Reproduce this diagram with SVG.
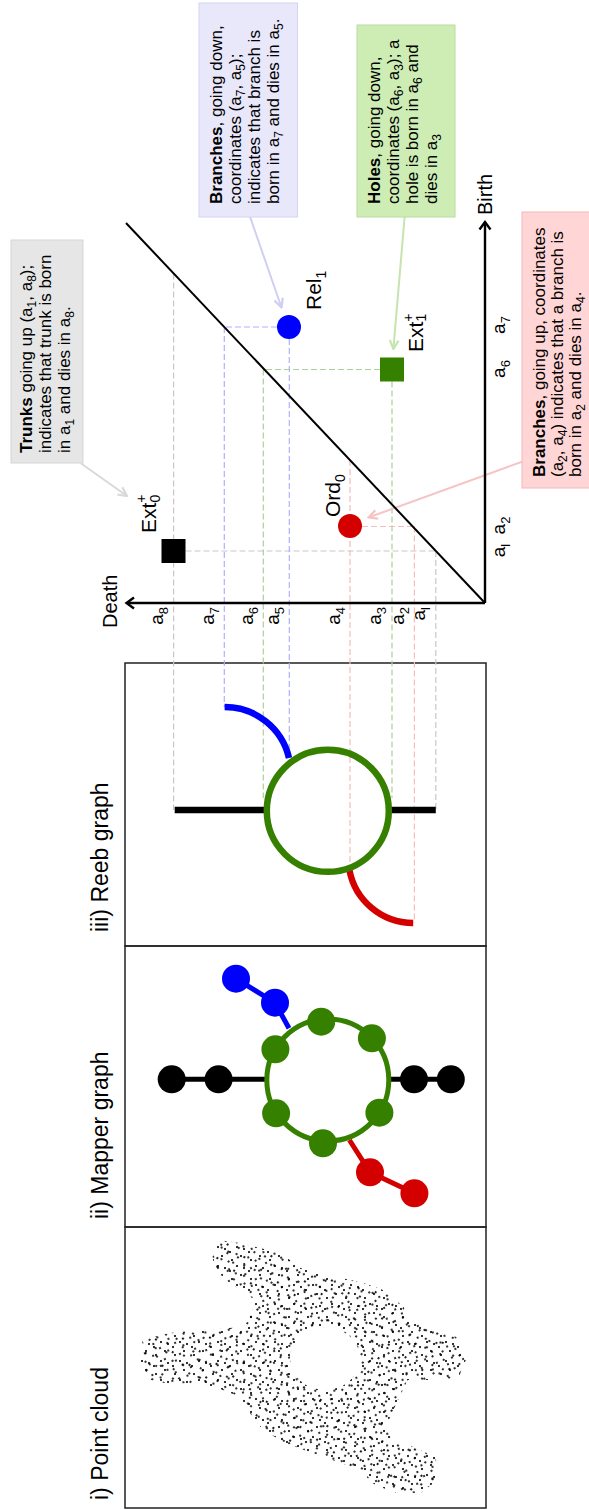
<svg xmlns="http://www.w3.org/2000/svg" width="589" height="1510" viewBox="0 0 589 1510">
<style>
text{font-family:"Liberation Sans",Arial,sans-serif;fill:#000}
.title{font-size:23px}
.ann{font-size:17px}
.s{font-size:12px}
.ax{font-size:19px}
.sa{font-size:13px}
.pl{font-size:21px}
.ss{font-size:14px}
.panel{fill:none;stroke:#222;stroke-width:1.5}
.d{fill:none;stroke-width:1.2;stroke-dasharray:6 3}
.dg{stroke:#c8c8c8}
.db{stroke:#b0b0ff}
.dgr{stroke:#aed09a}
.dr{stroke:#f6bcbc}
.axis{fill:none;stroke:#000;stroke-width:2.4}
.thick{fill:none;stroke-width:6.5}
.medium{fill:none;stroke-width:5}
.blk{stroke:#000}
.blu{stroke:#0000ff}
.grn{stroke:#368000}
.red{stroke:#d40000}
.nb{fill:#000}
.nbl{fill:#0000ff}
.ng{fill:#368000}
.nr{fill:#d40000}
.ar{fill:none;stroke-width:2}
</style>
<defs>
<marker id="mg" viewBox="0 0 10 10" refX="9" refY="5" markerWidth="11" markerHeight="11" markerUnits="userSpaceOnUse" orient="auto"><path d="M1,1 L9,5 L1,9" fill="none" stroke="#d9d9d9" stroke-width="2"/></marker>
<marker id="mb" viewBox="0 0 10 10" refX="9" refY="5" markerWidth="11" markerHeight="11" markerUnits="userSpaceOnUse" orient="auto"><path d="M1,1 L9,5 L1,9" fill="none" stroke="#cfcff4" stroke-width="2"/></marker>
<marker id="mgr" viewBox="0 0 10 10" refX="9" refY="5" markerWidth="11" markerHeight="11" markerUnits="userSpaceOnUse" orient="auto"><path d="M1,1 L9,5 L1,9" fill="none" stroke="#c6e4b0" stroke-width="2"/></marker>
<marker id="mr" viewBox="0 0 10 10" refX="9" refY="5" markerWidth="11" markerHeight="11" markerUnits="userSpaceOnUse" orient="auto"><path d="M1,1 L9,5 L1,9" fill="none" stroke="#f6c4c4" stroke-width="2"/></marker>
<pattern id="p1" patternUnits="userSpaceOnUse" width="19" height="19"><g fill="#000"><circle cx="3" cy="4" r="1.1"/><circle cx="11" cy="2" r="1.1"/><circle cx="16" cy="9" r="1.1"/><circle cx="7" cy="13" r="1.1"/><circle cx="14" cy="16" r="1.1"/></g></pattern>
<pattern id="p2" patternUnits="userSpaceOnUse" width="17" height="21" patternTransform="rotate(37)"><g fill="#000"><circle cx="2" cy="6" r="1.1"/><circle cx="9" cy="1" r="1.1"/><circle cx="13" cy="12" r="1.1"/><circle cx="5" cy="17" r="1.1"/></g></pattern>
<pattern id="p3" patternUnits="userSpaceOnUse" width="23" height="16" patternTransform="rotate(-19)"><g fill="#000"><circle cx="4" cy="3" r="1.1"/><circle cx="15" cy="7" r="1.1"/><circle cx="20" cy="13" r="1.1"/><circle cx="9" cy="12" r="1.1"/></g></pattern>
<path id="cloud" fill-rule="evenodd" d="M270,218 L267,240 L257,280 L242,300.5 L235,327 L228,360.6 L220,383 L203,404 L190,405.7 L182,435.8 L173,456.4 L150,465.8 L132,458.3 L130,432 L130,407.6 L110,398.2 L90,388.8 L70,390.7 L63,413.2 L53,435.8 L30,437.6 L17,420.7 L17,394.4 L27,371.9 L40,360.6 L48,338 L57,311.8 L67,285.5 L80,263 L97,249.8 L113,240.4 L122,218 L127,199 L126,169 L130,150.3 L148,140.9 L170,142.8 L177,169 L180,202.9 L182,229.2 L183,244.2 L197,251.7 L210,255.4 L220,240.4 L230,225.4 L243,214.1 L257,212.2 Z M120,325 A31.5,35 0 1 0 183,325 A31.5,35 0 1 0 120,325 Z"/>
</defs>
<g transform="translate(0,1510) rotate(-90)">
  <g id="panels">
    <rect class="panel" x="2" y="125" width="281" height="361"/>
    <rect class="panel" x="283" y="125" width="281" height="361"/>
    <rect class="panel" x="564" y="125" width="283" height="361"/>
    <text class="title" x="10" y="108">i) Point cloud</text>
    <text class="title" x="291" y="108">ii) Mapper graph</text>
    <text class="title" x="578" y="108">iii) Reeb graph</text>
  </g>
  <g id="point-cloud">
    <use href="#cloud" fill="url(#p1)"/>
    <use href="#cloud" fill="url(#p2)"/>
    <use href="#cloud" fill="url(#p3)"/>
  </g>
  <g id="connectors">
    <line class="d dg" x1="1236.6" y1="173.6" x2="700" y2="173.6"/>
    <line class="d dg" x1="959" y1="185.5" x2="959" y2="435.8"/>
    <line class="d dg" x1="959" y1="435.8" x2="701" y2="435.8"/>
    <line class="d dr" x1="1050" y1="350" x2="641" y2="350"/>
    <line class="d dr" x1="983.5" y1="362" x2="983.5" y2="414.4"/>
    <line class="d dr" x1="983.5" y1="414.4" x2="587" y2="414.4"/>
    <line class="d db" x1="1183" y1="224.3" x2="803" y2="224.3"/>
    <line class="d db" x1="1183" y1="277" x2="1183" y2="224.3"/>
    <line class="d db" x1="1171" y1="289.3" x2="752" y2="289.3"/>
    <line class="d dgr" x1="1140.5" y1="263.3" x2="712" y2="263.3"/>
    <line class="d dgr" x1="1140.5" y1="380" x2="1140.5" y2="263.3"/>
    <line class="d dgr" x1="1128.5" y1="392" x2="712" y2="392"/>
    <path class="ar" stroke="#d9d9d9" marker-end="url(#mg)" d="M1046.7,80.8 L1014,127"/>
    <path class="ar" stroke="#cfcff4" marker-end="url(#mb)" d="M1293.3,250 L1202.5,281.5"/>
    <path class="ar" stroke="#c6e4b0" marker-end="url(#mgr)" d="M1293,404.6 L1161,393.4"/>
    <path class="ar" stroke="#f6c4c4" marker-end="url(#mr)" d="M1048.3,522 L992.5,368.5"/>
  </g>
  <g id="mapper-graph">
    <line class="medium blk" x1="430.7" y1="171.7" x2="430.7" y2="266"/>
    <line class="medium blk" x1="430.7" y1="389" x2="430.7" y2="450.8"/>
    <polyline class="medium blu" points="531.3,236 507.3,275 481.7,289"/>
    <polyline class="medium red" points="370,349.4 337.7,370 316.7,414.4"/>
    <circle class="medium grn" cx="430" cy="327.8" r="61"/>
    <g id="m-black"><circle class="nb" cx="430.7" cy="171.7" r="14"/><circle class="nb" cx="430.7" cy="218.6" r="14"/><circle class="nb" cx="430.7" cy="414" r="14"/><circle class="nb" cx="430.7" cy="450.8" r="14"/></g>
    <g id="m-green"><circle class="ng" cx="460.7" cy="275.4" r="14"/><circle class="ng" cx="488.3" cy="321.2" r="14"/><circle class="ng" cx="471.7" cy="371.9" r="14"/><circle class="ng" cx="397.3" cy="379.4" r="14"/><circle class="ng" cx="366.7" cy="323" r="14"/><circle class="ng" cx="396.7" cy="276.1" r="14"/></g>
    <g id="m-blue"><circle class="nbl" cx="531.3" cy="236" r="14"/><circle class="nbl" cx="507.3" cy="275" r="14"/></g>
    <g id="m-red"><circle class="nr" cx="337.7" cy="370" r="14"/><circle class="nr" cx="316.7" cy="414.4" r="14"/></g>
  </g>
  <g id="reeb-graph">
    <line class="thick blk" x1="700" y1="174.7" x2="700" y2="266"/>
    <line class="thick blk" x1="700" y1="389" x2="700" y2="435.8"/>
    <path class="thick blu" d="M803,224.6 A66,66 0 0 1 752,289"/>
    <path class="thick red" d="M640,349.4 A65,65 0 0 0 587,413.2"/>
    <circle class="thick grn" cx="699.2" cy="327.8" r="61"/>
  </g>
  <g id="persistence-diagram">
    <line class="axis" x1="907" y1="485" x2="907" y2="127"/>
    <polyline class="axis" points="901.5,134 907,126.5 912.5,134"/>
    <line class="axis" x1="907" y1="485" x2="1288" y2="485"/>
    <polyline class="axis" points="1280.5,479.5 1288,485 1280.5,490.5"/>
    <line fill="none" stroke="#000" stroke-width="2" x1="907" y1="485" x2="1287" y2="126"/>
    <text class="pl" x="882" y="116.5" style="font-size:20px">Death</text>
    <text class="pl" x="1295" y="492" style="font-size:20px">Birth</text>
    <g id="death-labels" text-anchor="end">
      <text class="ax" x="903" y="163">a<tspan class="sa" dy="5">8</tspan></text>
      <text class="ax" x="903" y="214">a<tspan class="sa" dy="5">7</tspan></text>
      <text class="ax" x="903" y="253">a<tspan class="sa" dy="5">6</tspan></text>
      <text class="ax" x="903" y="279">a<tspan class="sa" dy="5">5</tspan></text>
      <text class="ax" x="903" y="340">a<tspan class="sa" dy="5">4</tspan></text>
      <text class="ax" x="903" y="381">a<tspan class="sa" dy="5">3</tspan></text>
      <text class="ax" x="903" y="404">a<tspan class="sa" dy="5">2</tspan></text>
      <text class="ax" x="903" y="425">a<tspan class="sa" dy="5">l</tspan></text>
    </g>
    <g id="birth-labels" text-anchor="middle">
      <text class="ax" x="959.5" y="505">a<tspan class="sa" dy="5">l</tspan></text>
      <text class="ax" x="984.5" y="505">a<tspan class="sa" dy="5">2</tspan></text>
      <text class="ax" x="1141" y="505">a<tspan class="sa" dy="5">6</tspan></text>
      <text class="ax" x="1185" y="505">a<tspan class="sa" dy="5">7</tspan></text>
    </g>
    <g id="ext0">
      <rect class="nb" x="947" y="161.5" width="24" height="24"/>
      <text class="pl" x="977" y="156">Ext<tspan class="ss" dy="-10">+</tspan><tspan class="ss" x="1007.5" dy="14">0</tspan></text>
    </g>
    <g id="ord0">
      <circle class="nr" cx="984" cy="350" r="12"/>
      <text class="pl" x="993" y="340">Ord<tspan class="ss" dy="5">0</tspan></text>
    </g>
    <g id="rel1">
      <circle class="nbl" cx="1183" cy="289" r="12"/>
      <text class="pl" x="1200" y="321">Rel<tspan class="ss" dy="5">1</tspan></text>
    </g>
    <g id="ext1">
      <rect class="ng" x="1128.5" y="380" width="24" height="24"/>
      <text class="pl" x="1158" y="422.5">Ext<tspan class="ss" dy="-10">+</tspan><tspan class="ss" x="1188.5" dy="13">1</tspan></text>
    </g>
  </g>
  <g id="note-trunks">
    <rect x="1047" y="11" width="223" height="72" fill="#e6e6e6" stroke="#d6d6d6"/>
    <text class="ann" x="1057" y="32"><tspan font-weight="bold">Trunks</tspan> going up (a<tspan class="s" dy="4">1</tspan><tspan dy="-4">, a</tspan><tspan class="s" dy="4">8</tspan><tspan dy="-4">);</tspan></text>
    <text class="ann" x="1057" y="51">indicates that trunk is born</text>
    <text class="ann" x="1057" y="70">in a<tspan class="s" dy="4">1</tspan><tspan dy="-4"> and dies in a</tspan><tspan class="s" dy="4">8</tspan><tspan dy="-4">.</tspan></text>
  </g>
  <g id="note-branches-down">
    <rect x="1293" y="199" width="214" height="98.5" fill="#e8e8fa" stroke="#d4d4f2"/>
    <text class="ann" x="1306" y="222"><tspan font-weight="bold">Branches</tspan>, going down,</text>
    <text class="ann" x="1306" y="241">coordinates (a<tspan class="s" dy="4">7</tspan><tspan dy="-4">, a</tspan><tspan class="s" dy="4">5</tspan><tspan dy="-4">);</tspan></text>
    <text class="ann" x="1306" y="260">indicates that branch is</text>
    <text class="ann" x="1306" y="279">born in a<tspan class="s" dy="4">7</tspan><tspan dy="-4"> and dies in a</tspan><tspan class="s" dy="4">5</tspan><tspan dy="-4">.</tspan></text>
  </g>
  <g id="note-holes">
    <rect x="1293" y="357" width="192" height="98" fill="#cdedb5" stroke="#b9dc9f"/>
    <text class="ann" x="1306" y="380"><tspan font-weight="bold">Holes</tspan>, going down,</text>
    <text class="ann" x="1306" y="399">coordinates (a<tspan class="s" dy="4">6</tspan><tspan dy="-4">, a</tspan><tspan class="s" dy="4">3</tspan><tspan dy="-4">); a</tspan></text>
    <text class="ann" x="1306" y="418">hole is born in a<tspan class="s" dy="4">6</tspan><tspan dy="-4"> and</tspan></text>
    <text class="ann" x="1306" y="437">dies in a<tspan class="s" dy="4">3</tspan></text>
  </g>
  <g id="note-branches-up">
    <rect x="1022" y="522" width="276" height="80" fill="#ffd5d5" stroke="#f2b8b8"/>
    <text class="ann" x="1033" y="545"><tspan font-weight="bold">Branches</tspan>, going up, coordinates</text>
    <text class="ann" x="1033" y="563">(a<tspan class="s" dy="4">2</tspan><tspan dy="-4">, a</tspan><tspan class="s" dy="4">4</tspan><tspan dy="-4">) indicates that a branch is</tspan></text>
    <text class="ann" x="1033" y="581">born in a<tspan class="s" dy="4">2</tspan><tspan dy="-4"> and dies in a</tspan><tspan class="s" dy="4">4</tspan><tspan dy="-4">.</tspan></text>
  </g>
</g>
</svg>
